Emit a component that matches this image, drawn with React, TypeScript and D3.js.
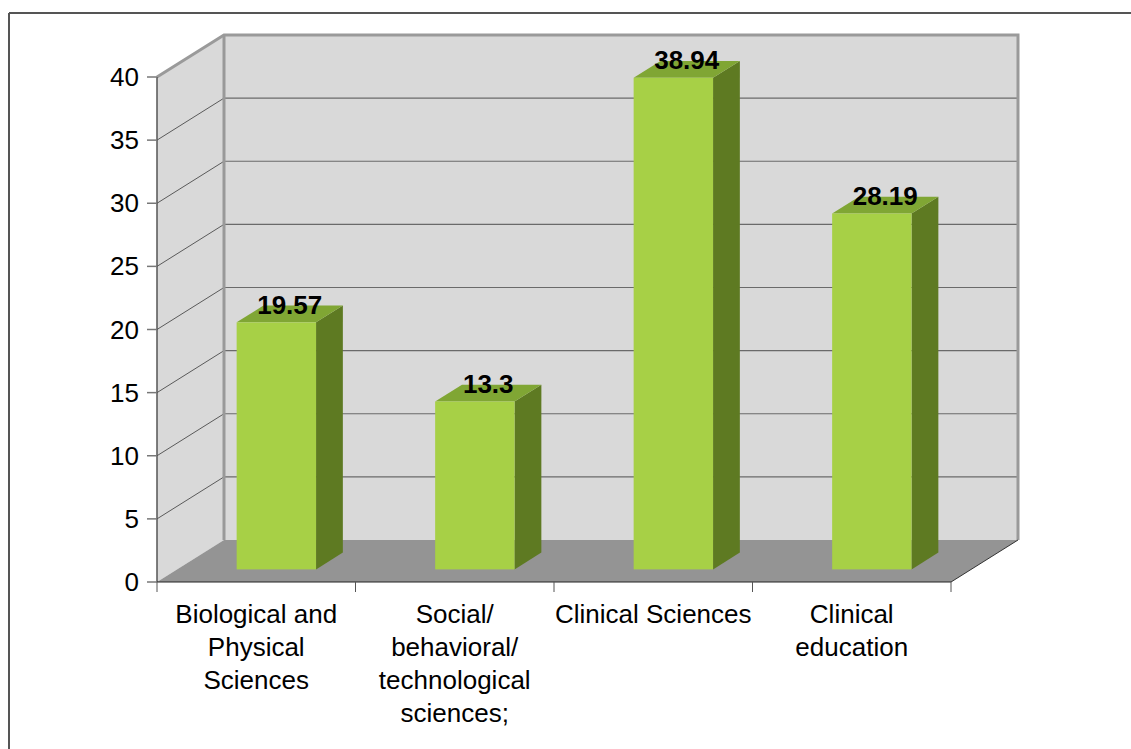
import { useEffect, useRef } from "react";
import * as d3 from "d3";

const categories = [
  "Biological and Physical Sciences",
  "Social/ behavioral/ technological sciences;",
  "Clinical Sciences",
  "Clinical education",
];
const categoryLines = [
  ["Biological and", "Physical", "Sciences"],
  ["Social/", "behavioral/", "technological", "sciences;"],
  ["Clinical Sciences"],
  ["Clinical", "education"],
];
const values = [19.57, 13.3, 38.94, 28.19];
const yTicks = [0, 5, 10, 15, 20, 25, 30, 35, 40];

export default function App() {
  const svgRef = useRef<SVGSVGElement>(null);

  useEffect(() => {
    if (!svgRef.current) return;
    const svg = d3.select(svgRef.current);
    svg.selectAll("*").remove();

    const font = "'Liberation Sans', Arial, sans-serif";
    const left = 157;
    const right = 951;
    // depth of the 3d box
    const dx = 67;
    const dy = -42;

    const x = d3.scaleBand<string>().domain(categories).range([left, right]);
    const y = d3.scaleLinear().domain([0, 40]).range([582, 77]);
    const y0 = y(0);
    const yTop = y(40);

    // outer frame
    svg.append("line").attr("x1", 9).attr("y1", 13).attr("x2", 1131).attr("y2", 13)
      .attr("stroke", "#555").attr("stroke-width", 2);
    svg.append("line").attr("x1", 9).attr("y1", 13).attr("x2", 9).attr("y2", 749)
      .attr("stroke", "#555").attr("stroke-width", 2);

    // back wall
    svg.append("rect")
      .attr("x", left + dx).attr("y", yTop + dy)
      .attr("width", right - left).attr("height", y0 - yTop)
      .attr("fill", "#d9d9d9");

    // side wall
    svg.append("polygon")
      .attr("points", [[left, y0], [left + dx, y0 + dy], [left + dx, yTop + dy], [left, yTop]].join(" "))
      .attr("fill", "#d9d9d9");

    // grid lines
    yTicks.filter((t) => t > 0).forEach((t) => {
      svg.append("line")
        .attr("x1", left + dx).attr("x2", right + dx)
        .attr("y1", y(t) + dy).attr("y2", y(t) + dy)
        .attr("stroke", "#6a6a6a").attr("stroke-width", 1.2);
      svg.append("line")
        .attr("x1", left).attr("x2", left + dx)
        .attr("y1", y(t)).attr("y2", y(t) + dy)
        .attr("stroke", "#5a5a5a").attr("stroke-width", 1);
    });

    // wall edges
    svg.append("path")
      .attr("d", `M${left},${yTop} L${left + dx},${yTop + dy} L${right + dx},${yTop + dy} L${right + dx},${y0 + dy}`)
      .attr("fill", "none").attr("stroke", "#9a9a9a").attr("stroke-width", 3);
    svg.append("line")
      .attr("x1", left + dx).attr("x2", left + dx)
      .attr("y1", yTop + dy).attr("y2", y0 + dy)
      .attr("stroke", "#999").attr("stroke-width", 3);

    // floor
    svg.append("polygon")
      .attr("points", [[left, y0], [right, y0], [right + dx, y0 + dy], [left + dx, y0 + dy]].join(" "))
      .attr("fill", "#949494");
    svg.append("line")
      .attr("x1", right).attr("y1", y0).attr("x2", right + dx).attr("y2", y0 + dy)
      .attr("stroke", "#333").attr("stroke-width", 1);

    // bars
    const bw = x.bandwidth();
    const fx = 0.3 * dx, fy = 0.3 * dy;
    const bdx = 0.4 * dx, bdy = 0.4 * dy;
    categories.forEach((c, i) => {
      const v = values[i];
      const x0 = (x(c) as number) + bw * 0.3 + fx;
      const w = bw * 0.4;
      const yb = y0 + fy;
      const yt = y(v) + fy;
      // side
      svg.append("polygon")
        .attr("points", [[x0 + w, yb], [x0 + w + bdx, yb + bdy], [x0 + w + bdx, yt + bdy], [x0 + w, yt]].join(" "))
        .attr("fill", "#5e7a22");
      // top
      svg.append("polygon")
        .attr("points", [[x0, yt], [x0 + w, yt], [x0 + w + bdx, yt + bdy], [x0 + bdx, yt + bdy]].join(" "))
        .attr("fill", "#80a634");
      // front
      svg.append("rect")
        .attr("x", x0).attr("y", yt).attr("width", w).attr("height", yb - yt)
        .attr("fill", "#a7d046");
      // value label
      svg.append("text")
        .attr("x", x0 + w / 2 + bdx / 2)
        .attr("y", yt + bdy / 2)
        .attr("text-anchor", "middle")
        .attr("font-family", font)
        .attr("font-size", "26px")
        .attr("font-weight", "bold")
        .attr("fill", "#000")
        .text(v);
    });

    // y axis
    svg.append("line")
      .attr("x1", left).attr("x2", left).attr("y1", yTop).attr("y2", y0)
      .attr("stroke", "#555").attr("stroke-width", 1.5);
    yTicks.forEach((t) => {
      svg.append("line")
        .attr("x1", left - 10).attr("x2", left)
        .attr("y1", y(t)).attr("y2", y(t))
        .attr("stroke", "#777").attr("stroke-width", 1.5);
      svg.append("text")
        .attr("x", left - 18).attr("y", y(t) + 9)
        .attr("text-anchor", "end")
        .attr("font-family", font)
        .attr("font-size", "26px")
        .attr("fill", "#000")
        .text(t);
    });

    // x axis
    svg.append("line")
      .attr("x1", left).attr("x2", right).attr("y1", y0).attr("y2", y0)
      .attr("stroke", "#222").attr("stroke-width", 1.2);
    [...categories.map((c) => x(c) as number), right].forEach((px) => {
      svg.append("line")
        .attr("x1", px).attr("x2", px).attr("y1", y0).attr("y2", y0 + 10)
        .attr("stroke", "#555").attr("stroke-width", 1);
    });
    categories.forEach((c, i) => {
      const cx = (x(c) as number) + bw / 2;
      const t = svg.append("text")
        .attr("text-anchor", "middle")
        .attr("font-family", font)
        .attr("font-size", "26px")
        .attr("fill", "#000");
      categoryLines[i].forEach((line, j) => {
        t.append("tspan").attr("x", cx).attr("y", 623 + j * 33).text(line);
      });
    });
  }, []);

  return (
    <svg
      ref={svgRef}
      width={1131}
      height={749}
      style={{ position: "absolute", left: 0, top: 0, display: "block", background: "#fff" }}
    ></svg>
  );
}
